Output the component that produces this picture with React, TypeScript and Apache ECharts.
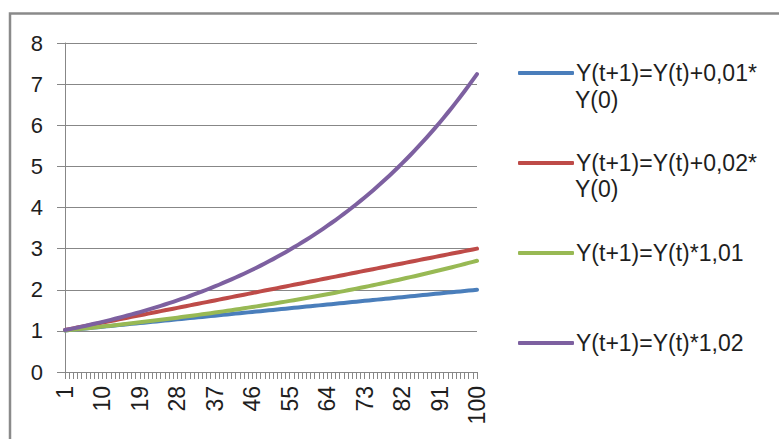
import React, { useEffect, useRef } from "react";
import * as echarts from "echarts";

const categories = [
  "1","2","3","4","5","6","7","8","9","10",
  "11","12","13","14","15","16","17","18","19","20",
  "21","22","23","24","25","26","27","28","29","30",
  "31","32","33","34","35","36","37","38","39","40",
  "41","42","43","44","45","46","47","48","49","50",
  "51","52","53","54","55","56","57","58","59","60",
  "61","62","63","64","65","66","67","68","69","70",
  "71","72","73","74","75","76","77","78","79","80",
  "81","82","83","84","85","86","87","88","89","90",
  "91","92","93","94","95","96","97","98","99","100",
];

const seriesNames = [
  "Y(t+1)=Y(t)+0,01*Y(0)",
  "Y(t+1)=Y(t)+0,02*Y(0)",
  "Y(t+1)=Y(t)*1,01",
  "Y(t+1)=Y(t)*1,02",
];

const legendFirstLines = [
  "Y(t+1)=Y(t)+0,01*",
  "Y(t+1)=Y(t)+0,02*",
  "Y(t+1)=Y(t)*1,01",
  "Y(t+1)=Y(t)*1,02",
];

const legendSecondLine = "Y(0)";

const yTicks = [0, 1, 2, 3, 4, 5, 6, 7, 8];

const blueValues = [
  1.01,1.02,1.03,1.04,1.05,1.06,1.07,1.08,1.09,1.10,
  1.11,1.12,1.13,1.14,1.15,1.16,1.17,1.18,1.19,1.20,
  1.21,1.22,1.23,1.24,1.25,1.26,1.27,1.28,1.29,1.30,
  1.31,1.32,1.33,1.34,1.35,1.36,1.37,1.38,1.39,1.40,
  1.41,1.42,1.43,1.44,1.45,1.46,1.47,1.48,1.49,1.50,
  1.51,1.52,1.53,1.54,1.55,1.56,1.57,1.58,1.59,1.60,
  1.61,1.62,1.63,1.64,1.65,1.66,1.67,1.68,1.69,1.70,
  1.71,1.72,1.73,1.74,1.75,1.76,1.77,1.78,1.79,1.80,
  1.81,1.82,1.83,1.84,1.85,1.86,1.87,1.88,1.89,1.90,
  1.91,1.92,1.93,1.94,1.95,1.96,1.97,1.98,1.99,2.00,
];

const redValues = [
  1.02,1.04,1.06,1.08,1.10,1.12,1.14,1.16,1.18,1.20,
  1.22,1.24,1.26,1.28,1.30,1.32,1.34,1.36,1.38,1.40,
  1.42,1.44,1.46,1.48,1.50,1.52,1.54,1.56,1.58,1.60,
  1.62,1.64,1.66,1.68,1.70,1.72,1.74,1.76,1.78,1.80,
  1.82,1.84,1.86,1.88,1.90,1.92,1.94,1.96,1.98,2.00,
  2.02,2.04,2.06,2.08,2.10,2.12,2.14,2.16,2.18,2.20,
  2.22,2.24,2.26,2.28,2.30,2.32,2.34,2.36,2.38,2.40,
  2.42,2.44,2.46,2.48,2.50,2.52,2.54,2.56,2.58,2.60,
  2.62,2.64,2.66,2.68,2.70,2.72,2.74,2.76,2.78,2.80,
  2.82,2.84,2.86,2.88,2.90,2.92,2.94,2.96,2.98,3.00,
];

const greenValues = [
  1.010,1.020,1.030,1.041,1.051,1.062,1.072,1.083,1.094,1.105,
  1.116,1.127,1.138,1.149,1.161,1.173,1.184,1.196,1.208,1.220,
  1.232,1.245,1.257,1.270,1.282,1.295,1.308,1.321,1.335,1.348,
  1.361,1.375,1.389,1.403,1.417,1.431,1.445,1.460,1.474,1.489,
  1.504,1.519,1.534,1.549,1.565,1.580,1.596,1.612,1.628,1.645,
  1.661,1.678,1.694,1.711,1.729,1.746,1.763,1.781,1.799,1.817,
  1.835,1.853,1.872,1.890,1.909,1.928,1.948,1.967,1.987,2.007,
  2.027,2.047,2.068,2.088,2.109,2.130,2.152,2.173,2.195,2.217,
  2.239,2.261,2.284,2.307,2.330,2.353,2.377,2.400,2.424,2.449,
  2.473,2.498,2.523,2.548,2.574,2.599,2.625,2.652,2.678,2.705,
];

const purpleValues = [
  1.020,1.040,1.061,1.082,1.104,1.126,1.149,1.172,1.195,1.219,
  1.243,1.268,1.294,1.319,1.346,1.373,1.400,1.428,1.457,1.486,
  1.516,1.546,1.577,1.608,1.641,1.673,1.707,1.741,1.776,1.811,
  1.848,1.885,1.922,1.961,2.000,2.040,2.081,2.122,2.165,2.208,
  2.252,2.297,2.343,2.390,2.438,2.487,2.536,2.587,2.639,2.692,
  2.745,2.800,2.856,2.913,2.972,3.031,3.092,3.154,3.217,3.281,
  3.347,3.414,3.482,3.551,3.623,3.695,3.769,3.844,3.921,4.000,
  4.080,4.161,4.244,4.329,4.416,4.504,4.594,4.686,4.780,4.875,
  4.973,5.072,5.174,5.277,5.383,5.491,5.600,5.712,5.827,5.943,
  6.062,6.183,6.307,6.433,6.562,6.693,6.827,6.963,7.103,7.245,
];

const seriesValues = [blueValues, redValues, greenValues, purpleValues];
const colors = ["#4a7ebb", "#be4b48", "#98b954", "#7d60a0"];

const FONT = "Liberation Sans";
const TEXT_COLOR = "#1e1e1e";
const GRID_COLOR = "#878787";

export default function App() {
  const ref = useRef<HTMLDivElement>(null);

  useEffect(() => {
    if (!ref.current) return;
    const chart = echarts.init(ref.current, undefined, { renderer: "svg" });
    const option: any = {
      animation: false,
      backgroundColor: "#ffffff",
      textStyle: { fontFamily: FONT },
      grid: { left: 65, right: 302, top: 43, bottom: 67, containLabel: false },
      xAxis: {
        type: "category",
        data: categories,
        boundaryGap: false,
        axisLine: { show: true, lineStyle: { color: GRID_COLOR, width: 1 } },
        axisTick: { show: true, interval: 0, length: 7, lineStyle: { color: GRID_COLOR } },
        axisLabel: {
          interval: 8,
          rotate: 90,
          margin: 14,
          fontSize: 23,
          fontFamily: FONT,
          color: TEXT_COLOR,
        },
        splitLine: { show: false },
      },
      yAxis: {
        type: "value",
        min: yTicks[0],
        max: yTicks[yTicks.length - 1],
        interval: 1,
        axisLine: { show: true, lineStyle: { color: GRID_COLOR, width: 1 } },
        axisTick: { show: true, length: 8, lineStyle: { color: GRID_COLOR } },
        axisLabel: {
          margin: 22,
          fontSize: 22,
          fontFamily: FONT,
          color: TEXT_COLOR,
        },
        splitLine: { show: true, lineStyle: { color: GRID_COLOR, width: 1 } },
      },
      legend: {
        orient: "vertical",
        left: 513,
        top: 55,
        itemWidth: 56,
        itemHeight: 4,
        itemGap: 64,
        icon: "roundRect",
        data: seriesNames,
        formatter: (name: string) => legendFirstLines[seriesNames.indexOf(name)],
        textStyle: {
          fontSize: 23,
          fontFamily: FONT,
          color: TEXT_COLOR,
          lineHeight: 26,
          padding: [0, 0, 0, -3],
        },
        selectedMode: false,
      },
      graphic: [
        {
          type: "rect",
          shape: { x: 10, y: 13.5, width: 800, height: 500 },
          style: { fill: "none", stroke: "#8a8a8a", lineWidth: 2.5 },
          silent: true,
        },
        {
          type: "text",
          left: 575,
          top: 88,
          style: { text: legendSecondLine, fontSize: 23, fontFamily: FONT, fill: TEXT_COLOR },
        },
        {
          type: "text",
          left: 575,
          top: 177,
          style: { text: legendSecondLine, fontSize: 23, fontFamily: FONT, fill: TEXT_COLOR },
        },
      ],
      series: seriesNames.map((name, i) => ({
        name,
        type: "line",
        data: seriesValues[i],
        showSymbol: false,
        symbol: "none",
        smooth: false,
        lineStyle: { color: colors[i], width: 4, cap: "round", join: "round" },
        itemStyle: { color: colors[i] },
      })),
    };
    chart.setOption(option);
    return () => chart.dispose();
  }, []);

  return (
    <div
      ref={ref}
      style={{ position: "fixed", left: 0, top: 0, width: 779, height: 439 }}
    />
  );
}
